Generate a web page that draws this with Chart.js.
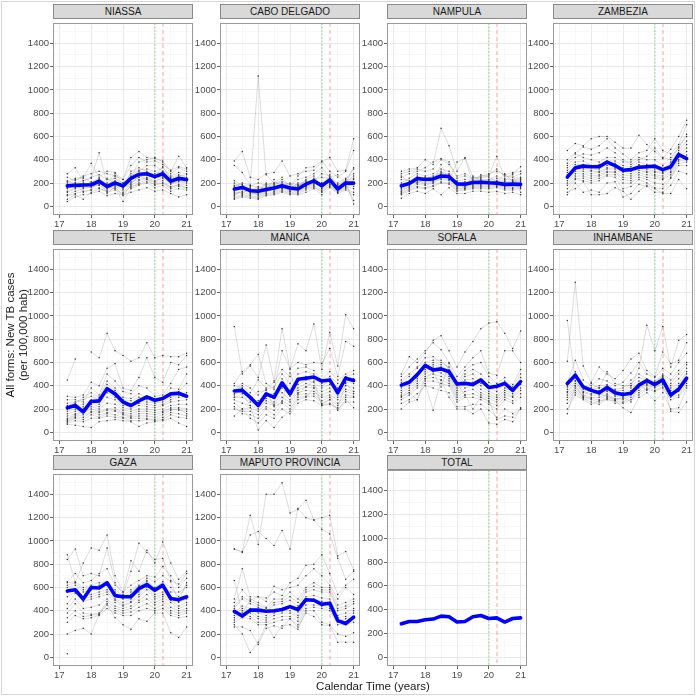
<!DOCTYPE html>
<html>
<head>
<meta charset="utf-8">
<script src="https://cdn.jsdelivr.net/npm/chart.js@4.4.0/dist/chart.umd.min.js"></script>
<style>
  body { margin: 0; background: #fff; }
  #fig { position: relative; width: 696px; height: 696px; overflow: hidden; font-family: "Liberation Sans", Arial, sans-serif; }
  #frame { position: absolute; left: 1px; top: 1px; width: 694px; height: 694px; box-sizing: border-box; border: 1px solid #d6d6d6; }
  .strip { position: absolute; width: 140px; height: 15px; box-sizing: border-box; background: #d9d9d9;
           border: 1px solid #8a8a8a; color: #1a1a1a; font-size: 10px; font-weight: normal; line-height: 13px; text-align: center; }
  canvas { position: absolute; }
  #ytitle { position: absolute; left: 17px; top: 335px; width: 240px; transform: translate(-50%, -50%) rotate(-90deg);
            text-align: center; font-size: 11.5px; line-height: 13px; color: #1a1a1a; }
  #xtitle { position: absolute; left: 373px; top: 686px; transform: translate(-50%, -50%); font-size: 11.5px; color: #1a1a1a; white-space: nowrap; }
</style>
</head>
<body>
<div id="fig"><div id="frame"></div></div>
<script>
// quarters (calendar time, years since 2000)
const quarters = [17.25, 17.5, 17.75, 18, 18.25, 18.5, 18.75, 19, 19.25, 19.5, 19.75, 20, 20.25, 20.5, 20.75, 21];
const xTicks = [17, 17.5, 18, 18.5, 19, 19.5, 20, 20.5, 21];
const yTicks = [0, 100, 200, 300, 400, 500, 600, 700, 800, 900, 1000, 1100, 1200, 1300, 1400, 1500];

// province means (blue)
const meanNiassa   = [175, 180, 183, 185, 215, 170, 200, 175, 240, 275, 280, 255, 280, 215, 240, 230];
const meanCabo     = [148, 162, 134, 129, 145, 157, 176, 157, 148, 190, 218, 176, 227, 148, 200, 199];
const meanNampula  = [176, 196, 238, 230, 235, 260, 255, 192, 190, 204, 207, 202, 199, 188, 190, 188];
const meanZambezia = [250, 330, 345, 340, 340, 380, 350, 310, 315, 335, 340, 345, 315, 340, 445, 410];
const meanTete     = [210, 230, 175, 265, 270, 375, 330, 260, 230, 270, 305, 275, 290, 330, 335, 310];
const meanManica   = [355, 360, 300, 230, 330, 300, 425, 330, 455, 465, 475, 440, 450, 340, 465, 445];
const meanSofala   = [405, 430, 495, 575, 535, 545, 520, 415, 420, 410, 450, 385, 395, 420, 360, 435];
const meanInhamb   = [420, 490, 390, 360, 340, 385, 340, 325, 335, 405, 445, 410, 450, 320, 370, 465];
const meanGaza     = [570, 580, 500, 600, 595, 640, 530, 520, 520, 590, 625, 575, 620, 505, 495, 520];
const meanMaputo   = [395, 355, 405, 405, 395, 400, 410, 435, 410, 495, 490, 455, 465, 315, 290, 345];
const meanTotal    = [280, 300, 300, 315, 320, 345, 340, 295, 300, 340, 350, 325, 330, 295, 325, 330];

// district series (grey)
const distNiassa = [
  [280, 330, 220, 240, 460, 200, 280, 230, 420, 470, 420, 410, 390, 300, 430, 330],
  [200, 230, 240, 370, 250, 300, 290, 180, 250, 380, 400, 420, 380, 280, 330, 300],
  [150, 180, 200, 190, 220, 150, 260, 140, 300, 330, 300, 260, 340, 240, 260, 270],
  [100, 130, 150, 170, 180, 140, 180, 120, 200, 250, 270, 240, 260, 200, 220, 210],
  [180, 200, 120, 140, 230, 110, 170, 90, 180, 220, 240, 200, 220, 160, 190, 180],
  [60, 100, 60, 120, 150, 130, 160, 40, 150, 180, 200, 160, 180, 130, 150, 140],
  [220, 240, 250, 200, 180, 240, 200, 200, 260, 300, 350, 350, 300, 250, 270, 250],
  [120, 150, 170, 160, 190, 170, 150, 180, 160, 200, 230, 180, 200, 170, 180, 160],
  [40, 80, 100, 110, 130, 90, 110, 100, 120, 140, 160, 130, 140, 110, 80, 100],
  [160, 170, 180, 210, 240, 190, 220, 150, 230, 250, 280, 280, 300, 230, 250, 230],
  [130, 160, 190, 200, 210, 180, 190, 160, 210, 230, 250, 220, 240, 190, 210, 200],
  [210, 200, 220, 250, 270, 230, 240, 200, 280, 310, 320, 300, 330, 260, 290, 280],
  [90, 110, 130, 140, 160, 120, 140, 110, 170, 190, 210, 190, 200, 150, 170, 160],
  [250, 220, 260, 280, 300, 280, 260, 230, 350, 420, 380, 390, 360, 310, 340, 320],
  [170, 190, 160, 180, 200, 160, 210, 170, 190, 260, 230, 210, 250, 200, 220, 240]
];
const distCabo = [
  [390, 470, 250, 230, 280, 290, 390, 260, 280, 300, 310, 380, 420, 300, 310, 580],
  [350, 290, 180, 1120, 270, 200, 250, 170, 260, 330, 340, 390, 300, 250, 300, 480],
  [220, 180, 170, 200, 180, 190, 200, 170, 230, 250, 280, 330, 250, 270, 200, 330],
  [150, 170, 150, 140, 160, 170, 180, 150, 200, 210, 230, 250, 240, 200, 240, 280],
  [100, 130, 120, 100, 130, 150, 160, 140, 140, 170, 200, 180, 210, 160, 180, 230],
  [80, 100, 90, 80, 110, 120, 140, 120, 120, 150, 170, 120, 180, 130, 160, 200],
  [60, 80, 70, 60, 90, 100, 120, 100, 100, 120, 150, 100, 160, 110, 140, 100],
  [180, 190, 110, 120, 200, 140, 170, 200, 180, 170, 190, 200, 200, 170, 190, 50],
  [90, 150, 130, 170, 140, 230, 150, 160, 150, 180, 240, 150, 190, 120, 210, 20],
  [120, 110, 160, 90, 120, 160, 190, 130, 170, 220, 200, 160, 230, 140, 170, 150],
  [130, 150, 140, 120, 150, 160, 170, 150, 180, 200, 210, 200, 210, 180, 200, 260],
  [170, 200, 180, 160, 190, 200, 210, 190, 160, 230, 260, 170, 270, 150, 230, 320],
  [110, 120, 100, 110, 140, 130, 150, 130, 130, 160, 180, 140, 190, 140, 190, 170],
  [200, 160, 140, 150, 170, 180, 230, 160, 190, 190, 220, 280, 260, 190, 220, 240],
  [70, 90, 80, 70, 100, 110, 130, 110, 110, 140, 160, 130, 170, 120, 150, 120]
];
const distNampula = [
  [300, 320, 330, 400, 360, 670, 520, 300, 420, 250, 240, 260, 430, 240, 280, 340],
  [250, 280, 300, 330, 380, 410, 380, 240, 260, 230, 250, 270, 320, 260, 250, 280],
  [200, 240, 280, 260, 280, 320, 300, 220, 230, 220, 230, 230, 260, 230, 230, 250],
  [180, 200, 240, 220, 240, 280, 270, 190, 200, 200, 210, 210, 220, 200, 210, 220],
  [150, 180, 220, 200, 220, 250, 250, 170, 180, 190, 190, 190, 200, 180, 190, 200],
  [120, 150, 190, 180, 200, 230, 220, 150, 160, 170, 170, 170, 180, 160, 160, 170],
  [100, 130, 160, 150, 170, 200, 190, 130, 140, 150, 150, 150, 160, 140, 140, 150],
  [70, 110, 130, 110, 150, 100, 160, 110, 110, 130, 130, 120, 130, 110, 120, 100],
  [260, 210, 200, 250, 200, 360, 230, 380, 410, 200, 270, 250, 210, 280, 210, 230],
  [130, 170, 250, 240, 260, 300, 240, 210, 150, 260, 220, 230, 190, 220, 270, 120],
  [230, 220, 260, 240, 250, 290, 280, 200, 210, 210, 220, 220, 240, 210, 220, 240],
  [160, 190, 210, 190, 210, 240, 230, 160, 170, 180, 180, 180, 190, 170, 180, 190],
  [110, 140, 170, 160, 180, 210, 200, 140, 150, 160, 160, 160, 170, 150, 150, 160],
  [280, 300, 320, 300, 320, 400, 360, 260, 280, 240, 260, 280, 300, 270, 290, 300],
  [140, 160, 200, 230, 230, 270, 260, 180, 190, 200, 200, 200, 210, 190, 200, 210]
];
const distZambezia = [
  [480, 540, 520, 580, 600, 600, 550, 500, 500, 610, 530, 470, 410, 490, 600, 740],
  [400, 460, 510, 490, 520, 580, 500, 450, 400, 460, 480, 580, 480, 450, 530, 700],
  [370, 450, 420, 400, 380, 420, 420, 380, 380, 420, 400, 400, 350, 420, 500, 620],
  [330, 380, 390, 350, 360, 390, 390, 350, 340, 380, 360, 340, 320, 380, 480, 560],
  [290, 340, 340, 310, 320, 350, 350, 310, 300, 350, 320, 300, 290, 340, 440, 500],
  [250, 300, 300, 280, 290, 320, 320, 270, 260, 310, 290, 270, 260, 300, 420, 440],
  [200, 260, 260, 240, 260, 290, 290, 230, 220, 270, 250, 240, 230, 270, 390, 400],
  [150, 230, 220, 200, 220, 260, 250, 150, 170, 230, 200, 160, 150, 240, 350, 350],
  [120, 150, 210, 100, 100, 110, 160, 130, 60, 130, 180, 150, 110, 110, 230, 150],
  [100, 200, 120, 140, 120, 200, 210, 80, 110, 190, 170, 120, 120, 180, 300, 280],
  [310, 360, 360, 330, 340, 370, 370, 330, 320, 360, 340, 320, 300, 360, 460, 530],
  [270, 320, 320, 300, 300, 330, 330, 290, 280, 330, 300, 290, 280, 320, 430, 470],
  [220, 280, 280, 260, 270, 300, 300, 250, 240, 290, 270, 260, 240, 290, 400, 420],
  [350, 420, 450, 440, 460, 500, 460, 400, 360, 400, 430, 500, 420, 400, 510, 600],
  [180, 240, 240, 220, 240, 270, 270, 200, 200, 250, 230, 200, 190, 250, 370, 380]
];
const distTete = [
  [450, 630, null, null, null, null, null, null, null, null, null, null, null, null, null, null],
  [null, null, null, 690, 640, 850, 700, 660, 610, 640, 770, 640, 660, 650, 650, 680],
  [310, 300, 320, 430, 400, 550, 590, 380, 360, 470, 640, 470, 430, 600, 580, 660],
  [280, 280, 260, 380, 320, 500, 440, 350, 330, 400, 380, 310, 320, 420, 540, 560],
  [230, 250, 300, 340, 300, 440, 380, 300, 290, 330, 300, 280, 300, 380, 370, 500],
  [200, 220, 240, 280, 260, 380, 330, 260, 240, 280, 260, 250, 260, 300, 320, 340],
  [160, 180, 200, 240, 220, 300, 280, 210, 200, 230, 220, 210, 230, 260, 270, 280],
  [120, 150, 170, 200, 180, 200, 210, 170, 160, 180, 180, 170, 180, 210, 210, 200],
  [100, 130, 130, 170, 150, 170, 180, 150, 130, 140, 140, 130, 150, 190, 200, 160],
  [80, 100, 90, 120, 120, 140, 130, 120, 100, 100, 110, 100, 110, 150, 130, 120],
  [70, 60, 50, 40, 90, 100, 110, 100, 90, 50, 80, 90, 100, 120, 80, 50],
  [180, 200, 220, 260, 240, 340, 300, 230, 220, 250, 240, 230, 240, 280, 300, 310],
  [140, 160, 180, 220, 200, 250, 240, 190, 180, 200, 200, 190, 200, 230, 240, 240],
  [250, 260, 280, 310, 280, 410, 360, 280, 270, 300, 280, 260, 280, 340, 350, 420],
  [90, 120, 110, 150, 130, 160, 150, 130, 120, 120, 120, 110, 130, 170, 160, 140],
  [110, 140, 150, 180, 170, 190, 190, 160, 140, 160, 160, 150, 170, 200, 190, 180]
];
const distManica = [
  [910, 500, 570, 470, 750, 440, 890, 540, 760, 700, 930, 540, 860, 570, 1010, 890],
  [420, 520, 580, 670, 420, 370, 700, 550, 600, 580, 600, 590, 720, 480, 780, 740],
  [350, 400, 340, 450, 380, 430, 540, 480, 550, 560, 530, 450, 520, 450, 500, 530],
  [320, 380, 300, 250, 330, 330, 460, 360, 440, 480, 460, 400, 440, 380, 460, 460],
  [300, 300, 260, 230, 290, 260, 380, 310, 380, 420, 400, 350, 380, 320, 400, 380],
  [250, 200, 210, 180, 250, 230, 300, 260, 340, 360, 350, 300, 320, 280, 350, 330],
  [220, 160, 150, 120, 200, 150, 250, 200, 300, 310, 310, 250, 280, 230, 300, 300],
  [140, 200, 120, 80, 150, 120, 200, 160, 250, 280, 270, 230, 250, 200, 260, 260],
  [300, 330, 230, 20, 100, 40, 130, 180, 280, 300, 380, 240, 280, 190, 280, 210],
  [400, 380, 290, 350, 360, 220, 260, 510, 330, 390, 440, 230, 240, 210, 420, 350],
  [280, 250, 230, 200, 270, 240, 340, 280, 360, 390, 380, 320, 350, 300, 370, 350],
  [360, 420, 380, 320, 370, 390, 500, 420, 500, 520, 500, 420, 480, 420, 480, 500],
  [200, 180, 180, 150, 220, 190, 270, 230, 320, 330, 330, 270, 300, 250, 320, 310],
  [330, 350, 280, 270, 310, 300, 420, 330, 410, 450, 430, 380, 410, 350, 430, 420]
];
const distSofala = [
  [500, 650, 600, 680, 790, 830, 700, 560, 690, 780, 890, 940, 950, 850, 720, 870],
  [480, 560, 630, 700, 770, 710, 600, 480, 560, 640, 700, 510, 490, 700, 700, 600],
  [430, 480, 550, 640, 650, 600, 560, 420, 530, 580, 600, 480, 420, 470, 410, 540],
  [400, 440, 500, 560, 600, 580, 520, 380, 480, 500, 420, 380, 350, 410, 370, 470],
  [360, 400, 460, 520, 560, 540, 480, 340, 420, 430, 370, 330, 300, 360, 330, 410],
  [320, 360, 420, 480, 500, 480, 440, 300, 350, 370, 320, 290, 260, 320, 300, 360],
  [280, 320, 380, 440, 440, 420, 400, 260, 300, 300, 280, 240, 200, 280, 250, 300],
  [250, 280, 330, 400, 380, 360, 340, 220, 220, 240, 240, 190, 130, 200, 160, 200],
  [200, 260, 280, 420, 190, 450, 300, 200, 200, 160, 200, 80, 70, 110, 90, 210],
  [310, 340, 280, 460, 520, 390, 590, 420, 320, 200, 300, 270, 110, 140, 130, 200],
  [380, 420, 480, 540, 580, 560, 500, 360, 450, 460, 400, 350, 320, 380, 350, 440],
  [340, 380, 440, 500, 530, 510, 460, 320, 380, 400, 340, 310, 280, 340, 310, 380],
  [300, 340, 400, 460, 470, 450, 420, 280, 320, 330, 300, 260, 230, 300, 270, 330],
  [450, 500, 560, 600, 620, 620, 540, 400, 500, 540, 500, 430, 380, 440, 390, 500]
];
const distInhamb = [
  [960, 440, 340, 420, 380, 520, 420, 400, 400, 550, 920, 700, 910, 560, 790, 840],
  [610, 1290, 570, 430, 560, 500, 460, 530, 630, 680, 530, 480, 690, 590, 620, 770],
  [430, 620, 450, 400, 460, 440, 400, 430, 510, 600, 500, 470, 550, 500, 600, 680],
  [400, 520, 400, 380, 400, 410, 370, 380, 450, 500, 460, 440, 500, 450, 530, 600],
  [370, 470, 370, 350, 360, 380, 340, 340, 400, 440, 440, 420, 470, 400, 460, 550],
  [340, 420, 340, 320, 320, 350, 310, 310, 360, 400, 420, 400, 440, 360, 400, 500],
  [300, 380, 310, 290, 280, 320, 280, 280, 320, 360, 400, 380, 410, 320, 350, 440],
  [250, 340, 290, 260, 240, 290, 250, 250, 280, 320, 370, 350, 380, 280, 300, 400],
  [200, 320, 280, 240, 270, 280, 270, 210, 170, 300, 340, 270, 340, 200, 210, 380],
  [160, 400, 300, 380, 330, 310, 280, 300, 260, 410, 360, 420, 480, 180, 170, 260],
  [390, 500, 390, 370, 380, 400, 360, 360, 420, 470, 450, 430, 490, 420, 500, 580],
  [350, 440, 350, 330, 340, 360, 320, 320, 380, 420, 430, 410, 450, 380, 420, 520],
  [320, 400, 320, 300, 300, 330, 290, 290, 340, 380, 410, 390, 420, 340, 380, 470],
  [280, 360, 300, 280, 260, 300, 270, 260, 300, 340, 380, 360, 390, 300, 320, 420]
];
const distGaza = [
  [880, 640, 810, 940, 920, 1050, 700, 560, 830, 740, 920, 810, 990, 810, 670, 740],
  [840, 930, 700, 720, 700, 940, 640, 540, 740, 980, 900, 840, 850, 660, 630, 720],
  [650, 720, 640, 660, 720, 760, 620, 560, 620, 660, 700, 690, 780, 700, 600, 680],
  [640, 650, 600, 620, 640, 650, 580, 530, 580, 620, 680, 650, 700, 650, 480, 640],
  [600, 620, 560, 580, 600, 620, 540, 500, 540, 600, 650, 580, 620, 560, 560, 600],
  [560, 580, 520, 540, 560, 580, 500, 470, 500, 560, 620, 540, 560, 520, 470, 500],
  [460, 550, 480, 500, 520, 540, 470, 440, 470, 520, 580, 500, 520, 470, 420, 450],
  [380, 460, 380, 370, 380, 480, 420, 400, 420, 470, 500, 450, 480, 400, 380, 400],
  [300, 360, 330, 340, 360, 420, 380, 360, 360, 400, 420, 400, 420, 360, 340, 350],
  [200, 230, 250, 200, 370, 460, 340, 280, 240, 330, 310, 380, 380, 210, 170, 260],
  [30, null, null, null, null, null, null, null, null, null, null, null, null, null, null, null],
  [620, 640, 580, 600, 620, 640, 560, 510, 560, 610, 660, 600, 650, 600, 520, 620],
  [520, 560, 500, 520, 540, 560, 490, 450, 480, 540, 600, 520, 540, 490, 440, 470],
  [420, 500, 420, 430, 450, 500, 440, 420, 440, 490, 540, 470, 500, 430, 400, 420],
  [340, 400, 350, 360, 370, 450, 400, 380, 390, 430, 460, 420, 450, 380, 360, 380]
];
const distMaputo = [
  [930, 910, 1220, 970, 1400, 1400, 1500, 1240, 1270, 1350, 1180, 1200, 1220, 870, 910, 750],
  [930, 900, 1050, 1080, 1020, 960, 1090, 930, 1280, 1200, 1180, 1100, 1060, 850, 670, 740],
  [660, 380, 490, 520, 510, 560, 530, 640, 680, 790, 800, 880, 720, 540, 620, 670],
  [500, 760, 520, 520, 480, 610, 580, 600, 620, 700, 760, 700, 620, 500, 600, 540],
  [470, 580, 500, 470, 430, 500, 500, 560, 500, 600, 640, 600, 600, 450, 470, 500],
  [420, 500, 460, 430, 400, 450, 460, 490, 440, 560, 580, 560, 560, 400, 420, 460],
  [380, 440, 420, 380, 360, 400, 420, 430, 390, 520, 530, 510, 500, 360, 380, 420],
  [340, 400, 380, 330, 320, 360, 380, 380, 340, 480, 480, 460, 440, 320, 330, 380],
  [300, 340, 330, 280, 280, 300, 320, 330, 280, 420, 430, 420, 400, 280, 280, 300],
  [280, 200, 40, 130, 280, 170, 270, 280, 240, 400, 400, 300, 280, 200, 180, 210],
  [260, 260, 230, 110, 250, 270, 250, 330, 260, 380, 350, 280, 270, 130, 130, 130],
  [440, 520, 480, 450, 420, 470, 480, 520, 470, 580, 610, 580, 580, 420, 440, 480],
  [360, 420, 400, 350, 340, 380, 400, 400, 360, 500, 500, 480, 470, 340, 350, 400],
  [320, 370, 350, 300, 300, 330, 350, 350, 310, 450, 450, 440, 420, 300, 300, 340]
];

const provinces = ['NIASSA', 'CABO DELGADO', 'NAMPULA', 'ZAMBEZIA', 'TETE', 'MANICA', 'SOFALA',
                   'INHAMBANE', 'GAZA', 'MAPUTO PROVINCIA', 'TOTAL'];
const means = [meanNiassa, meanCabo, meanNampula, meanZambezia, meanTete, meanManica, meanSofala,
               meanInhamb, meanGaza, meanMaputo, meanTotal];
const districts = [distNiassa, distCabo, distNampula, distZambezia, distTete, distManica, distSofala,
                   distInhamb, distGaza, distMaputo, []];

// panel geometry
const colLeft = [53, 220, 387, 553];
const rowTop = [19, 245, 470];
const plotW = 140, plotH = 196, yAxisW = 32, xAxisH = 16, padR = 6;

const fig = document.getElementById('fig');

const toPoints = vals => vals.map((v, i) => ({ x: quarters[i], y: v }));

// green/red reference lines + panel border
const panelDeco = {
  id: 'panelDeco',
  beforeDatasetsDraw(chart) {
    const { ctx, chartArea: a, scales: { x } } = chart;
    ctx.save();
    ctx.lineWidth = 1;
    ctx.strokeStyle = 'rgba(80,190,80,0.55)';
    ctx.setLineDash([2, 1.5]);
    let px = Math.round(x.getPixelForValue(20));
    ctx.beginPath(); ctx.moveTo(px, a.top); ctx.lineTo(px, a.bottom); ctx.stroke();
    ctx.strokeStyle = 'rgba(240,100,100,0.6)';
    ctx.setLineDash([4, 3]);
    px = Math.round(x.getPixelForValue(20.25));
    ctx.beginPath(); ctx.moveTo(px, a.top); ctx.lineTo(px, a.bottom); ctx.stroke();
    ctx.restore();
  },
  afterDraw(chart) {
    const { ctx, chartArea: a } = chart;
    ctx.save();
    ctx.strokeStyle = '#999';
    ctx.lineWidth = 1;
    ctx.strokeRect(a.left + 0.5, a.top + 0.5, a.right - a.left - 1, a.bottom - a.top - 1);
    ctx.restore();
  }
};

provinces.forEach((name, k) => {
  const col = k % 4, row = Math.floor(k / 4);
  const left = colLeft[col], top = rowTop[row];

  const strip = document.createElement('div');
  strip.className = 'strip';
  strip.style.left = left + 'px';
  strip.style.top = (top - 15) + 'px';
  strip.textContent = name;
  fig.appendChild(strip);

  const cv = document.createElement('canvas');
  cv.width = yAxisW + plotW + padR;
  cv.height = plotH + xAxisH;
  cv.style.left = (left - yAxisW) + 'px';
  cv.style.top = top + 'px';
  fig.appendChild(cv);

  const datasets = [{
    data: toPoints(means[k]),
    borderColor: '#0000ff',
    borderWidth: 3.6,
    pointRadius: 0,
    borderCapStyle: 'round',
    borderJoinStyle: 'round'
  }];
  districts[k].forEach(d => datasets.push({
    data: toPoints(d),
    borderColor: 'rgba(120,120,120,0.5)',
    borderWidth: 0.5,
    pointRadius: 0.75,
    pointBorderWidth: 0,
    pointBackgroundColor: '#333',
    spanGaps: false
  }));

  new Chart(cv.getContext('2d'), {
    type: 'line',
    data: { datasets },
    options: {
      responsive: false,
      animation: false,
      devicePixelRatio: 1,
      layout: { padding: { left: 0, top: 0, right: padR, bottom: 0 } },
      plugins: { legend: { display: false }, tooltip: { enabled: false } },
      scales: {
        x: {
          type: 'linear', min: 16.8, max: 21.2,
          afterBuildTicks: s => { s.ticks = xTicks.map(v => ({ value: v })); },
          afterFit: s => { s.height = xAxisH; s.paddingLeft = 0; s.paddingRight = 0; },
          ticks: { callback: v => Number.isInteger(v) ? String(v) : '', autoSkip: false, maxRotation: 0,
                   font: { size: 9.5, family: 'Liberation Sans' }, color: '#4d4d4d', padding: 1 },
          grid: {
            color: c => Number.isInteger(c.tick.value) ? '#e6e6e6' : '#f3f3f3',
            lineWidth: c => Number.isInteger(c.tick.value) ? 0.9 : 0.6,
            tickLength: 3,
            tickColor: c => Number.isInteger(c.tick.value) ? '#555' : 'rgba(0,0,0,0)'
          },
          border: { display: false }
        },
        y: {
          type: 'linear', min: -75, max: 1575,
          afterBuildTicks: s => { s.ticks = yTicks.map(v => ({ value: v })); },
          afterFit: s => { s.width = yAxisW; s.paddingTop = 0; s.paddingBottom = 0; },
          ticks: { callback: v => (v % 200 === 0 && v <= 1400) ? String(v) : '', autoSkip: false,
                   font: { size: 9.5, family: 'Liberation Sans' }, color: '#4d4d4d', padding: 1 },
          grid: {
            color: c => c.tick.value % 200 === 0 ? '#e6e6e6' : '#f3f3f3',
            lineWidth: c => c.tick.value % 200 === 0 ? 0.9 : 0.6,
            tickLength: 3,
            tickColor: c => c.tick.value % 200 === 0 ? '#555' : 'rgba(0,0,0,0)'
          },
          border: { display: false }
        }
      }
    },
    plugins: [panelDeco]
  });
});

const yt = document.createElement('div');
yt.id = 'ytitle';
yt.innerHTML = 'All forms: New TB cases<br>(per 100,000 hab)';
fig.appendChild(yt);

const xt = document.createElement('div');
xt.id = 'xtitle';
xt.textContent = 'Calendar Time (years)';
fig.appendChild(xt);
</script>
</body>
</html>
